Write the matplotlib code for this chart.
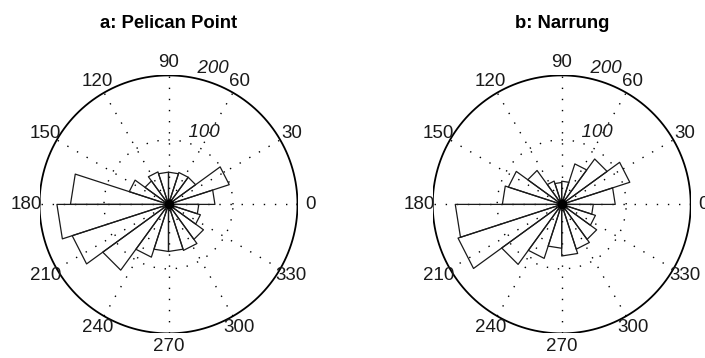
import numpy as np
import matplotlib.pyplot as plt

plt.rcParams['font.family'] = ['Liberation Sans', 'DejaVu Sans']

# rose histogram: 20 bins of 18 degrees each
bin_edges = np.arange(0, 361, 18)

pelican_counts = [72, 99, 52, 52, 50, 50, 53, 45, 64, 152,
                  173, 157, 126, 86, 73, 73, 75, 67, 52, 47]
narrung_counts = [83, 111, 87, 66, 36, 34, 38, 65, 87, 92,
                  165, 169, 115, 88, 68, 80, 73, 67, 55, 49]

titles = ['a: Pelican Point', 'b: Narrung']
spoke_angles = [30, 60, 90, 120, 150, 180]
angle_labels = ['30', '60', '90', '120', '150', '180',
                '210', '240', '270', '300', '330', '0']
ring_ticks = [100, 200]
rmax = 200

FS = 13.5
DOTS = (0, (1, 7))


def rose(ax, counts, title):
    t = np.linspace(0, 2 * np.pi, 361)

    # dotted spokes through the centre
    for a in spoke_angles:
        c, s = np.cos(np.radians(a)), np.sin(np.radians(a))
        ax.plot([-rmax * c, rmax * c], [-rmax * s, rmax * s],
                color='k', lw=1.0, linestyle=DOTS)

    # inner dotted rings, solid outer circle
    for r in ring_ticks[:-1]:
        ax.plot(r * np.cos(t), r * np.sin(t), color='k', lw=1.0, linestyle=DOTS)
    ax.plot(rmax * np.cos(t), rmax * np.sin(t), color='k', lw=1.3)

    # angle labels
    for i, a in enumerate(range(30, 390, 30)):
        ax.text(1.1 * rmax * np.cos(np.radians(a)), 1.1 * rmax * np.sin(np.radians(a)),
                angle_labels[i], ha='center', va='center', fontsize=FS, color='0.1')

    # ring labels at 82 degrees
    c82, s82 = np.cos(np.radians(82)), np.sin(np.radians(82))
    for r in ring_ticks:
        rr = r + 100 / 20
        ax.text(rr * c82, rr * s82, '  ' + str(r), ha='left', va='baseline',
                fontsize=FS, style='italic', color='0.1')

    # wedges
    for k, n in enumerate(counts):
        e1, e2 = np.radians(bin_edges[k]), np.radians(bin_edges[k + 1])
        xs = [0, n * np.cos(e1), n * np.cos(e2), 0]
        ys = [0, n * np.sin(e1), n * np.sin(e2), 0]
        ax.plot(xs, ys, color='0.1', lw=0.9)
    # all wedge edges meet in a dark hub
    ax.plot(0, 0, 'o', ms=6, color='k')

    ax.set_xlim(-rmax, rmax)
    ax.set_ylim(-rmax, rmax)
    ax.axis('off')
    ax.set_title(title, fontsize=13.3, fontweight='bold', pad=34)


fig = plt.figure(figsize=(7.05, 3.58), dpi=100)
W, H = 705, 358
R = 129
centres = [(168.5, 204.4), (561.7, 204.4)]

for (cx, cy), counts, title in zip(centres, [pelican_counts, narrung_counts], titles):
    ax = fig.add_axes([(cx - R) / W, (H - cy - R) / H, 2 * R / W, 2 * R / H])
    rose(ax, counts, title)

fig.savefig('out.png', dpi=100)
